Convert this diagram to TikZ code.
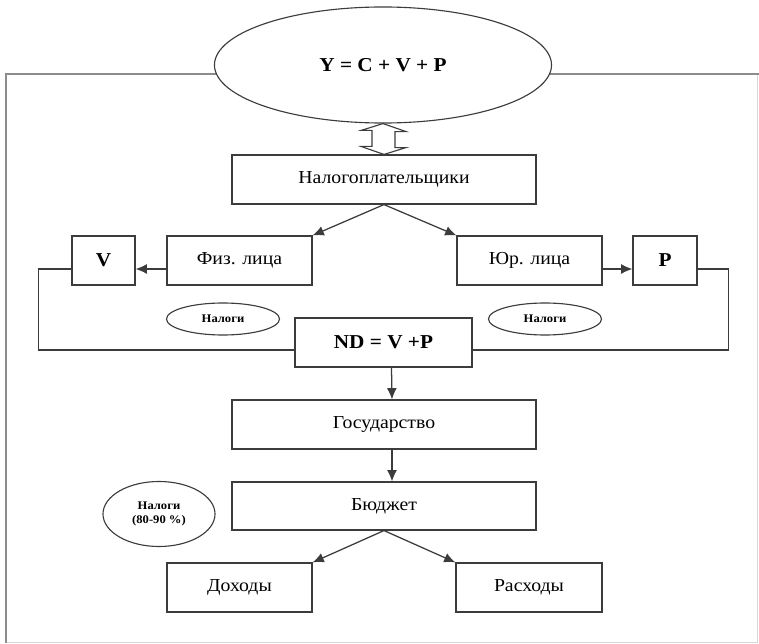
\documentclass[tikz,border=0pt]{standalone}
\usepackage{fontspec}
\setmainfont{Liberation Serif}[FakeStretch=1.08]
\usetikzlibrary{shapes,arrows,arrows.meta,positioning,calc}
\definecolor{edge}{RGB}{60,60,60}
\definecolor{frame}{RGB}{140,140,140}

\begin{document}
\begin{tikzpicture}[x=0.025cm,y=-0.025cm,
    box/.style={draw=edge,line width=0.8pt,fill=white,inner sep=0pt,minimum height=1.225cm,font=\fontsize{13}{15}\selectfont},
    oval/.style={ellipse,draw=edge,line width=0.8pt,fill=white,inner sep=0pt,align=center,font=\bfseries\fontsize{8.3}{9.5}\selectfont},
    arr/.style={-{Latex[length=8pt,width=7pt]},edge,line width=0.9pt}]
    \useasboundingbox (0,0) rectangle (759,644);

    % Frame
    \draw[frame!35,line width=0.6pt] (6,642) -- (757,642) -- (757,74);
    \draw[frame,line width=1.4pt] (759,74) -- (6,74) -- (6,643);

    % Top
    \node[ellipse,draw=edge,line width=0.8pt,fill=white,minimum width=8.425cm,minimum height=2.9cm,font=\bfseries\fontsize{14}{16}\selectfont] (yeq) at (383,65) {Y = C + V + P};
    \node[box,minimum width=7.6cm] (taxp) at (384,179.5) {Налогоплательщики};
    \draw[edge,line width=0.8pt,fill=white] (yeq.south) -- ++(23,8) -- ++(-11,0) -- ++(0,16) -- ++(11,0)
        -- (taxp.north) -- ++(-23,-8) -- ++(11,0) -- ++(0,-16) -- ++(-11,0) -- cycle;

    % Physical and legal persons
    \node[box,minimum width=1.575cm,font=\bfseries\fontsize{14}{16}\selectfont] (v) at (103.5,260.5) {V};
    \node[box,minimum width=3.625cm] (fiz) at (239.5,260.5) {Физ. лица};
    \node[box,minimum width=3.625cm] (yur) at (529.5,260.5) {Юр. лица};
    \node[box,minimum width=1.6cm,font=\bfseries\fontsize{14}{16}\selectfont] (p) at (665,260.5) {P};
    \draw[arr] (taxp.south) -- (fiz.north east);
    \draw[arr] (taxp.south) -- (yur.north west);
    \draw[arr] ([yshift=-0.2125cm]fiz.west) -- ([yshift=-0.2125cm]v.east);
    \draw[arr] ([yshift=-0.2125cm]yur.east) -- ([yshift=-0.2125cm]p.west);

    % Taxes
    \node[oval,minimum width=2.825cm,minimum height=0.8cm] (tax1) at (223,319) {Налоги};
    \node[oval,minimum width=2.825cm,minimum height=0.8cm] (tax2) at (545,319) {Налоги};
    \node[box,minimum width=4.425cm,font=\bfseries\fontsize{14}{16}\selectfont] (nd) at (383.5,342.5) {ND = V +P};
    \draw[edge,line width=0.8pt] ([yshift=-0.2125cm]v.west) -- ++(-33,0) |- ([yshift=-0.1875cm]nd.west);
    \draw[edge,line width=0.8pt] ([yshift=-0.2125cm]p.east) -- ++(31,0) |- ([yshift=-0.1875cm]nd.east);

    % State and budget
    \node[box,minimum width=7.6cm] (gos) at (384,424.5) {Государство};
    \node[box,minimum width=7.6cm,minimum height=1.2cm] (bud) at (384,506) {Бюджет};
    \node[oval,minimum width=2.8cm,minimum height=1.625cm] (tax3) at (159,514) {Налоги\\(80-90 \%)};
    \draw[arr] ([xshift=0.2cm]nd.south) -- ([xshift=0.2cm]gos.north);
    \draw[arr] ([xshift=0.2cm]gos.south) -- ([xshift=0.2cm]bud.north);

    % Income and expenses
    \node[box,minimum width=3.625cm] (doh) at (239.5,587.5) {Доходы};
    \node[box,minimum width=3.65cm] (ras) at (529,587.5) {Расходы};
    \draw[arr] (bud.south) -- (doh.north east);
    \draw[arr] (bud.south) -- (ras.north west);
\end{tikzpicture}
\end{document}
